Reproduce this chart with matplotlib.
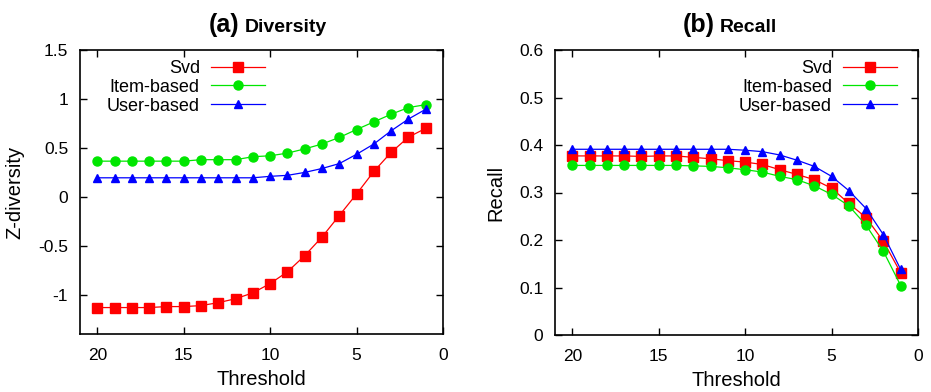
import matplotlib
matplotlib.use('Agg')
import matplotlib.pyplot as plt

plt.rcParams['font.family'] = ['Liberation Sans', 'DejaVu Sans']

# Thresholds (x), from 20 down to 1
threshold = list(range(20, 0, -1))

# (a) Diversity
div_svd = [-1.13, -1.13, -1.13, -1.13, -1.12, -1.12, -1.11, -1.08, -1.04, -0.98,
           -0.885, -0.765, -0.60, -0.41, -0.19, 0.03, 0.26, 0.455, 0.61, 0.70]
div_item = [0.365, 0.365, 0.365, 0.365, 0.365, 0.365, 0.38, 0.38, 0.38, 0.41,
            0.42, 0.447, 0.49, 0.54, 0.607, 0.688, 0.766, 0.844, 0.912, 0.942]
div_user = [0.195, 0.195, 0.195, 0.195, 0.195, 0.195, 0.195, 0.195, 0.195, 0.195,
            0.21, 0.22, 0.25, 0.29, 0.34, 0.435, 0.54, 0.675, 0.795, 0.895]

# (b) Recall
rec_svd = [0.377, 0.377, 0.377, 0.377, 0.376, 0.377, 0.377, 0.374, 0.371, 0.367,
           0.364, 0.359, 0.348, 0.338, 0.327, 0.309, 0.277, 0.247, 0.197, 0.131]
rec_item = [0.357, 0.357, 0.357, 0.357, 0.357, 0.357, 0.357, 0.356, 0.355, 0.352,
            0.348, 0.343, 0.334, 0.327, 0.314, 0.296, 0.272, 0.231, 0.176, 0.104]
rec_user = [0.391, 0.391, 0.391, 0.391, 0.391, 0.391, 0.391, 0.391, 0.391, 0.391,
            0.389, 0.386, 0.379, 0.368, 0.355, 0.334, 0.304, 0.266, 0.211, 0.138]

labels = ['Svd', 'Item-based', 'User-based']
colors = ['#ff0000', '#00e600', '#0000ff']
markers = ['s', 'o', '^']
msizes = [6.5, 6.5, 5.5]

fig = plt.figure(figsize=(9.31, 3.92), dpi=100)
ax1 = fig.add_axes([80/931, 1 - 334/392, 363/931, 284/392])
ax2 = fig.add_axes([555/931, 1 - 335/392, 363/931, 285/392])

panels = [
    (ax1, [div_svd, div_item, div_user], (-1.4, 1.5), [-1, -0.5, 0, 0.5, 1, 1.5],
     ['-1', '-0.5', '0', '0.5', '1', '1.5'], 'Z-diversity', '(a)', 'Diversity',
     'upper left', (0.074, 0.965)),
    (ax2, [rec_svd, rec_item, rec_user], (0, 0.6), [0, 0.1, 0.2, 0.3, 0.4, 0.5, 0.6],
     ['0', '0.1', '0.2', '0.3', '0.4', '0.5', '0.6'], 'Recall', '(b)', 'Recall',
     'upper right', (0.942, 0.965)),
]

for ax, series, ylim, yticks, yticklabels, ylabel, tag, name, loc, anchor in panels:
    for ys, lab, c, m, ms in zip(series, labels, colors, markers, msizes):
        ax.plot(threshold, ys, color=c, marker=m, markersize=ms, linewidth=0.9,
                label=lab)
    ax.set_xlim(21, 0)
    ax.set_xticks([20, 15, 10, 5, 0])
    ax.set_ylim(*ylim)
    ax.set_yticks(yticks)
    ax.set_yticklabels(yticklabels)
    ax.tick_params(direction='in', top=True, right=True, length=5, width=1,
                   labelsize=12.5)
    ax.tick_params(axis='x', pad=10)
    ax.tick_params(axis='y', pad=8.5)
    for s in ax.spines.values():
        s.set_linewidth(1.2)
    ax.set_xlabel('Threshold', fontsize=14.5, labelpad=5)
    ax.set_ylabel(ylabel, fontsize=14.5, labelpad=10)
    ax.text(0.44, 1.063, tag, transform=ax.transAxes, ha='right', va='baseline',
            fontsize=18, fontweight='bold')
    ax.text(0.455, 1.063, name, transform=ax.transAxes, ha='left', va='baseline',
            fontsize=14, fontweight='bold')
    ax.legend(loc=loc, bbox_to_anchor=anchor, frameon=False, markerfirst=False,
              fontsize=13, handlelength=3.0, handletextpad=0.6,
              labelspacing=0.1, borderpad=0, borderaxespad=0)

fig.savefig('out.png', dpi=100)
